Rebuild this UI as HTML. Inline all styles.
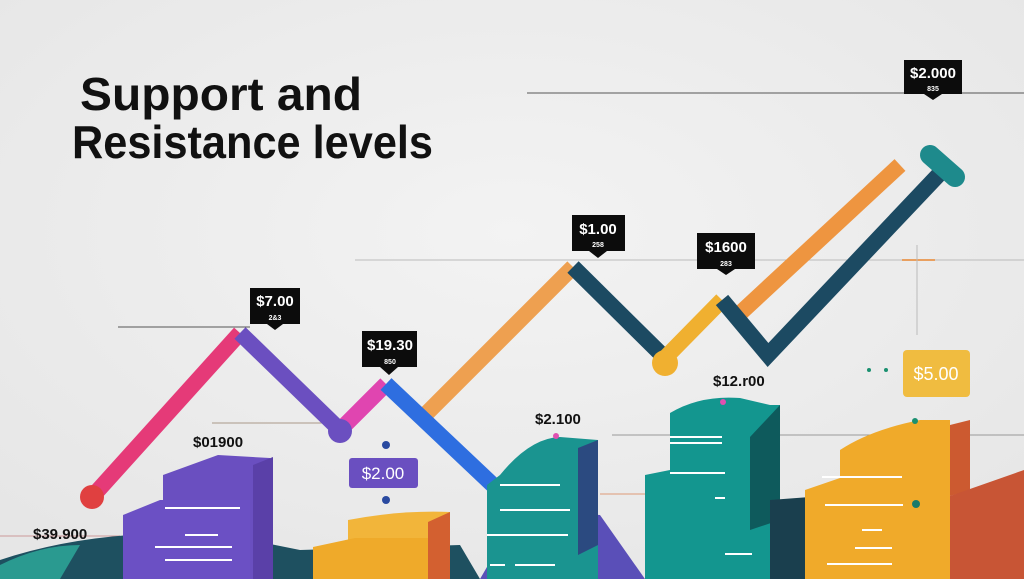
<!DOCTYPE html>
<html><head><meta charset="utf-8"><style>
html,body{margin:0;padding:0;background:#ededed;}
svg{display:block}
text{font-family:"Liberation Sans",sans-serif;}
</style></head><body>
<svg width="1024" height="579" viewBox="0 0 1024 579" xmlns="http://www.w3.org/2000/svg">
<defs>
<radialGradient id="bg" cx="0.5" cy="0.4" r="0.7"><stop offset="0" stop-color="#f3f3f3"/><stop offset="1" stop-color="#e6e6e6"/></radialGradient>
</defs>
<rect width="1024" height="579" fill="url(#bg)"/>
<text x="80" y="110" font-size="46" font-weight="bold" fill="#111" textLength="282" lengthAdjust="spacingAndGlyphs">Support and</text>
<text x="72" y="158" font-size="46" font-weight="bold" fill="#111" textLength="361" lengthAdjust="spacingAndGlyphs">Resistance levels</text>
<g stroke="#555" stroke-width="1">
<line x1="527" y1="93" x2="1024" y2="93"/>
<line x1="355" y1="260" x2="1024" y2="260" stroke="#bbb"/>
<line x1="118" y1="327" x2="250" y2="327"/>
<line x1="212" y1="423" x2="330" y2="423" stroke="#a98"/>
<line x1="612" y1="435" x2="1024" y2="435" stroke="#999"/>
<line x1="0" y1="536" x2="120" y2="536" stroke="#c99"/>
<line x1="600" y1="494" x2="650" y2="494" stroke="#d97"/>
<line x1="902" y1="260" x2="935" y2="260" stroke="#e9a060" stroke-width="2"/>
<line x1="917" y1="245" x2="917" y2="335" stroke="#bbb"/>
</g>
<g stroke-width="16" fill="none" stroke-linejoin="miter">
<line x1="425" y1="415" x2="573" y2="267" stroke="#eea050"/>
<line x1="735" y1="318" x2="900" y2="165" stroke="#ee9540"/>
<line x1="92" y1="497" x2="240" y2="333" stroke="#e53a78"/>
<polyline points="240,333 340,430" stroke="#6b4fc0"/>
<polyline points="340,430 386,384" stroke="#e045b0"/>
<polyline points="386,384 495,487" stroke="#2e6ee0"/>
<polyline points="573,267 665,358" stroke="#1c4a62"/>
<polyline points="665,358 722,300" stroke="#f0b030"/>
<polyline points="722,300 768,355 945,168" stroke="#1c4a62"/>
</g>
<circle cx="92" cy="497" r="12" fill="#e04040"/>
<circle cx="340" cy="431" r="12" fill="#6b4fc0"/>
<circle cx="665" cy="363" r="13" fill="#f0b030"/>
<line x1="930" y1="155" x2="955" y2="177" stroke="#1e8a8c" stroke-width="20" stroke-linecap="round"/>
<circle cx="386" cy="445" r="4" fill="#2a4aa0"/>
<circle cx="386" cy="500" r="4" fill="#2a4aa0"/>
<path d="M0,579 L0,560 Q60,540 130,535 L200,530 L300,550 L460,545 L480,579Z" fill="#1e5060"/>
<path d="M0,579 L0,565 Q40,545 80,545 L60,579Z" fill="#2a9a90"/>
<path d="M163,475 L218,455 L270,458 L273,579 L163,579Z" fill="#6a4fc0"/>
<path d="M253,465 L273,457 L273,579 L253,579Z" fill="#5a40a8"/>
<path d="M123,515 L160,500 L250,500 L250,579 L123,579Z" fill="#6b50c4"/>
<path d="M348,520 Q400,510 450,512 L450,579 L348,579Z" fill="#f2b53a"/>
<path d="M313,547 L355,538 L430,538 L430,579 L313,579Z" fill="#efaa2a"/>
<path d="M428,522 L450,512 L450,579 L428,579Z" fill="#d36030"/>
<path d="M480,579 L520,510 L600,515 L645,579Z" fill="#5a4fb8"/>
<path d="M500,475 Q530,438 560,437 L598,440 L598,579 L487,579 L487,485Z" fill="#1a9490"/>
<path d="M578,448 L598,440 L598,545 L578,555Z" fill="#2b4a80"/>
<path d="M645,475 L670,470 L670,413 Q700,395 740,398 L770,405 L780,405 L780,579 L645,579Z" fill="#13968f"/>
<path d="M750,437 L780,405 L780,520 L750,530Z" fill="#0e5a5c"/>
<path d="M770,500 L810,497 L810,579 L770,579Z" fill="#1a3f4e"/>
<path d="M805,490 L840,478 L840,450 Q870,430 920,420 L950,420 L950,579 L805,579Z" fill="#f0aa2a"/>
<path d="M950,425 L970,420 L970,490 L950,496Z" fill="#cc5a30"/>
<path d="M950,496 L1024,470 L1024,579 L950,579Z" fill="#c85535"/>
<g stroke="#fff" stroke-width="2">
<line x1="165" y1="508" x2="240" y2="508"/><line x1="185" y1="535" x2="218" y2="535"/><line x1="155" y1="547" x2="232" y2="547"/><line x1="165" y1="560" x2="232" y2="560"/>
<line x1="500" y1="485" x2="560" y2="485"/><line x1="500" y1="510" x2="570" y2="510"/><line x1="487" y1="535" x2="568" y2="535"/><line x1="490" y1="565" x2="505" y2="565"/><line x1="515" y1="565" x2="555" y2="565"/>
<line x1="670" y1="437" x2="722" y2="437"/><line x1="670" y1="443" x2="722" y2="443"/><line x1="670" y1="473" x2="725" y2="473"/><line x1="715" y1="498" x2="725" y2="498"/><line x1="725" y1="554" x2="752" y2="554"/>
<line x1="822" y1="477" x2="902" y2="477"/><line x1="825" y1="505" x2="903" y2="505"/><line x1="862" y1="530" x2="882" y2="530"/><line x1="855" y1="548" x2="892" y2="548"/><line x1="827" y1="564" x2="892" y2="564"/>
</g>
<circle cx="556" cy="436" r="3" fill="#e050b0"/><circle cx="723" cy="402" r="3" fill="#e050b0"/>
<circle cx="915" cy="421" r="3" fill="#1a9070"/><circle cx="916" cy="504" r="4" fill="#1a7a6a"/>
<circle cx="869" cy="370" r="2" fill="#1a9070"/><circle cx="886" cy="370" r="2" fill="#1a9070"/>
<g font-size="15" fill="#111" font-weight="bold">
<text x="193" y="447">$01900</text>
<text x="33" y="539">$39.900</text>
<text x="535" y="424">$2.100</text>
<text x="713" y="386">$12.r00</text>
</g>
<g fill="#0c0c0c">
<path d="M250,288 h50 v36 h-17 l-8,6 l-8,-6 h-17z"/>
<path d="M362,331 h55 v36 h-19 l-9,8 l-9,-8 h-18z"/>
<path d="M572,215 h53 v36 h-18 l-9,7 l-9,-7 h-17z"/>
<path d="M697,233 h58 v36 h-20 l-9,6 l-9,-6 h-20z"/>
<path d="M904,60 h58 v34 h-20 l-9,6 l-9,-6 h-20z"/>
</g>
<g fill="#fff" font-size="15" text-anchor="middle" font-weight="bold">
<text x="275" y="306">$7.00</text><text x="275" y="320" font-size="7">2&amp;3</text>
<text x="390" y="350">$19.30</text><text x="390" y="364" font-size="7">850</text>
<text x="598" y="234">$1.00</text><text x="598" y="247" font-size="7">258</text>
<text x="726" y="252">$1600</text><text x="726" y="266" font-size="7">283</text>
<text x="933" y="78">$2.000</text><text x="933" y="91" font-size="7">835</text>
</g>
<rect x="349" y="458" width="69" height="30" rx="3" fill="#6a4fc0"/>
<text x="383" y="479" fill="#fff" font-size="17" text-anchor="middle">$2.00</text>
<rect x="903" y="350" width="67" height="47" rx="4" fill="#f0bc40"/>
<text x="936" y="380" fill="#fff" font-size="18" text-anchor="middle">$5.00</text>
</svg>
</body></html>
